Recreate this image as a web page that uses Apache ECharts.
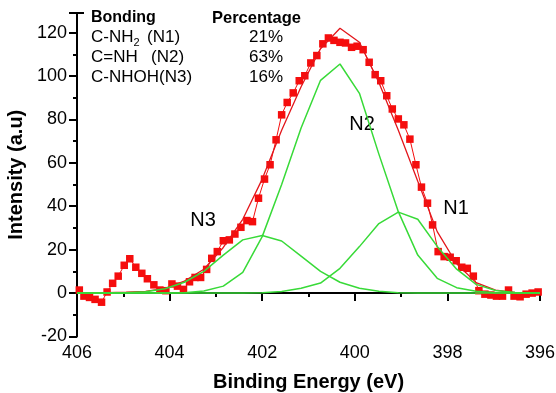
<!DOCTYPE html>
<html>
<head>
<meta charset="utf-8">
<script src="https://cdn.jsdelivr.net/npm/echarts@6/dist/echarts.min.js"></script>
<style>
  html, body { margin: 0; padding: 0; background: #fff; }
  #chart { width: 556px; height: 393px; }
</style>
</head>
<body>
<div id="chart"></div>
<script>
// measured spectrum (red squares)
const expX = [405.95, 405.85, 405.73, 405.61, 405.47, 405.35, 405.23, 405.11, 404.98, 404.86,
  404.73, 404.60, 404.48, 404.34, 404.21, 404.08, 403.95, 403.83, 403.70, 403.57,
  403.45, 403.33, 403.20, 403.09, 402.97, 402.84, 402.71, 402.59, 402.46, 402.33,
  402.21, 402.08, 401.95, 401.83, 401.70, 401.58, 401.46, 401.33, 401.20, 401.08,
  400.95, 400.82, 400.69, 400.57, 400.45, 400.32, 400.20, 400.07, 399.95, 399.82,
  399.69, 399.56, 399.44, 399.31, 399.19, 399.06, 398.94, 398.81, 398.68, 398.56,
  398.43, 398.32, 398.20, 398.07, 397.94, 397.81, 397.69, 397.57, 397.44, 397.32,
  397.19, 397.06, 396.94, 396.81, 396.68, 396.56, 396.43, 396.30, 396.17, 396.04];
const expY = [1.4, -1.4, -2.0, -2.9, -4.2, 0.5, 4.5, 7.8, 12.8, 15.8,
  11.9, 9.1, 6.6, 3.8, 1.4, 1.1, 4.2, 3.2, 1.7, 5.2,
  7.2, 7.2, 10.9, 16.0, 19.1, 24.1, 24.5, 27.2, 30.3, 33.4,
  32.9, 43.7, 52.5, 59.1, 70.6, 82.1, 87.8, 92.2, 97.8, 100.1,
  106.0, 109.4, 114.8, 117.5, 116.4, 115.5, 115.2, 113.2, 113.7, 112.1,
  106.3, 100.6, 97.8, 90.9, 84.8, 80.2, 77.5, 70.9, 59.1, 48.8,
  41.4, 31.4, 19.1, 16.8, 16.5, 14.9, 11.9, 11.4, 7.8, 1.1,
  -0.5, -0.9, -1.4, -1.4, 1.4, -1.4, -1.7, -0.5, 0.0, 0.5];

// fitted curves
const fitX = [406.0, 405.78, 405.36, 404.94, 404.52, 404.10, 403.68, 403.26, 402.84, 402.42,
  402.00, 401.58, 401.16, 400.74, 400.32, 399.90, 399.48, 399.06, 398.64, 398.22,
  397.80, 397.38, 396.96, 396.54, 396.12, 396.0];
const envelopeY = [0, 0.1, 0.2, 0.4, 0.8, 2.2, 5.5, 11.0, 21.0, 34.0,
  52.5, 75.0, 95.0, 112.5, 122.0, 115.5, 97.0, 75.0, 51.5, 28.3,
  13.5, 4.8, 1.4, 0.3, 0.1, 0];
const n1Y = [0, 0, 0, 0, 0, 0, 0, 0, 0, 0,
  0.2, 0.7, 2.2, 4.6, 11.4, 21.4, 32.0, 37.3, 34.0, 21.5,
  11.0, 4.0, 1.2, 0.3, 0.1, 0];
const n2Y = [0, 0, 0, 0, 0, 0.05, 0.2, 1.0, 3.2, 9.5,
  26.0, 50.0, 76.0, 98.0, 105.5, 92.0, 64.0, 37.5, 17.5, 6.8,
  2.5, 0.8, 0.2, 0, 0, 0];
const n3Y = [0, 0, 0, 0.2, 0.6, 2.0, 5.0, 10.0, 17.5, 24.5,
  26.5, 24.0, 17.0, 10.0, 5.0, 2.2, 0.8, 0.2, 0, 0,
  0, 0, 0, 0, 0, 0];

const bondings = ['C-NH', 'C=NH', 'C-NHOH(N3)'];
const bondTags = ['(N1)', '(N2)', ''];
const percentages = ['21%', '63%', '16%'];
const peakNames = ['N3', 'N2', 'N1'];

const pairs = (xs, ys) => xs.map((x, i) => [x, ys[i]]);

const chart = echarts.init(document.getElementById('chart'));
const font = 'Liberation Sans, Arial, sans-serif';
const green = '#38da38';

const axisCommon = {
  axisLine: { lineStyle: { color: '#000', width: 2 } },
  axisTick: { inside: false, length: 8, lineStyle: { color: '#000', width: 2 } },
  minorTick: { show: true, splitNumber: 2, length: 4, lineStyle: { color: '#000', width: 2 } },
  splitLine: { show: false },
  axisLabel: { color: '#000', fontSize: 18, fontFamily: font },
  nameLocation: 'middle',
  nameTextStyle: { color: '#000', fontSize: 20, fontWeight: 'bold', fontFamily: font },
};

const txt = (x, y, text, f, align) => ({
  type: 'text', x, y,
  style: { text, font: f, fill: '#000', align: align || 'left', verticalAlign: 'middle' },
});

const gfx = [
  txt(91, 18, 'Bonding', 'bold 16px ' + font),
  txt(212, 18, 'Percentage', 'bold 16.5px ' + font),
  // axis end cap at the top of the y axis
  { type: 'line', shape: { x1: 76, y1: 13, x2: 84, y2: 13 }, style: { stroke: '#000', lineWidth: 2 } },
];
bondings.forEach((b, i) => {
  const y = 37 + i * 20.3;
  gfx.push(txt(91, y, b, '17px ' + font));
  gfx.push(txt(283, y, percentages[i], '17px ' + font, 'right'));
  if (bondTags[i]) gfx.push(txt(i === 0 ? 147 : 151, y, bondTags[i], '17px ' + font));
});
gfx.push(txt(133.5, 43, '2', '11px ' + font));

const peakPos = [[203, 220], [362, 124], [456, 208]];
peakNames.forEach((n, i) => {
  gfx.push(txt(peakPos[i][0], peakPos[i][1], n, '20px ' + font, 'center'));
});

chart.setOption({
  backgroundColor: '#fff',
  animation: false,
  grid: { left: 77, right: 16, top: 13, bottom: 56.5, outerBoundsMode: 'none', containLabel: false },
  xAxis: Object.assign({}, axisCommon, {
    type: 'value', min: 396, max: 406, interval: 2, inverse: true,
    name: 'Binding Energy (eV)', nameGap: 36,
    axisLabel: Object.assign({}, axisCommon.axisLabel, { margin: 8 }),
  }),
  yAxis: Object.assign({}, axisCommon, {
    type: 'value', min: -20, max: 129, interval: 20,
    name: 'Intensity (a.u)', nameGap: 46,
    axisLabel: Object.assign({}, axisCommon.axisLabel, { showMaxLabel: false, margin: 10 }),
  }),
  graphic: gfx,
  series: [
    {
      type: 'line', data: pairs(expX, expY), symbol: 'rect', symbolSize: 7.5,
      itemStyle: { color: '#f50d0d' }, lineStyle: { color: '#f50d0d', width: 1 }, z: 2,
    },
    {
      type: 'line', data: pairs(fitX, envelopeY), symbol: 'none',
      lineStyle: { color: '#e3161b', width: 1.3 }, z: 3,
    },
    { type: 'line', data: pairs(fitX, n1Y), symbol: 'none', lineStyle: { color: green, width: 1.5 }, z: 4 },
    { type: 'line', data: pairs(fitX, n2Y), symbol: 'none', lineStyle: { color: green, width: 1.5 }, z: 4 },
    { type: 'line', data: pairs(fitX, n3Y), symbol: 'none', lineStyle: { color: green, width: 1.5 }, z: 4 },
  ],
});
</script>
</body>
</html>
